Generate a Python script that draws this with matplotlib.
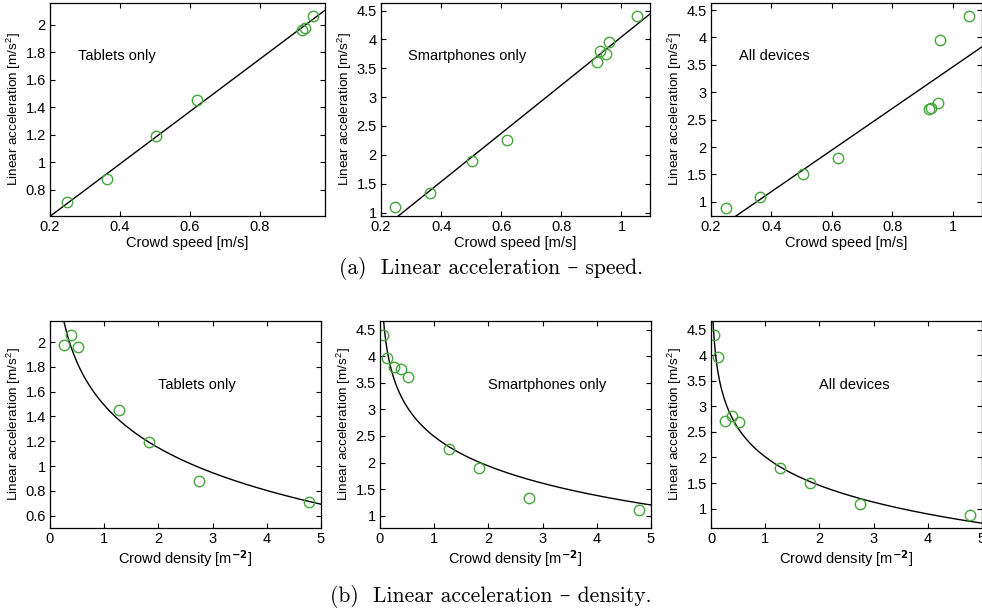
import numpy as np
import matplotlib
matplotlib.use('Agg')
import matplotlib.pyplot as plt
from matplotlib.ticker import FormatStrFormatter

plt.rcParams['font.family'] = ['Liberation Sans', 'DejaVu Sans']
plt.rcParams['mathtext.fontset'] = 'custom'
plt.rcParams['mathtext.rm'] = 'Liberation Sans'
plt.rcParams['mathtext.it'] = 'Liberation Sans'

# crowd speed [m/s] and density [m^-2] per experiment
speed_tab = [0.248, 0.362, 0.503, 0.620, 0.920, 0.930, 0.952]
acc_tab_speed = [0.71, 0.88, 1.19, 1.45, 1.96, 1.98, 2.06]
speed_all = [0.248, 0.362, 0.503, 0.620, 0.920, 0.927, 0.950, 0.957, 1.052]
acc_phone_speed = [1.10, 1.33, 1.90, 2.25, 3.61, 3.80, 3.75, 3.96, 4.40]
acc_all_speed = [0.88, 1.08, 1.50, 1.80, 2.69, 2.72, 2.81, 3.96, 4.40]

dens_tab = [0.25, 0.38, 0.52, 1.28, 1.83, 2.75, 4.78]
acc_tab_dens = [1.98, 2.06, 1.96, 1.45, 1.19, 0.88, 0.71]
dens_all = [0.05, 0.13, 0.25, 0.38, 0.52, 1.28, 1.83, 2.75, 4.78]
acc_phone_dens = [4.40, 3.96, 3.80, 3.75, 3.61, 2.25, 1.90, 1.33, 1.10]
acc_all_dens = [4.40, 3.96, 2.72, 2.81, 2.69, 1.80, 1.50, 1.08, 0.88]

titles = ['Tablets only', 'Smartphones only', 'All devices']

W, H = 982, 612
fig = plt.figure(figsize=(W / 100, H / 100), dpi=100)

def px_axes(x0, x1, y0, y1):
    return fig.add_axes([x0 / W, 1 - y1 / H, (x1 - x0) / W, (y1 - y0) / H])

green = '#44a83a'
fs = 10.5

def style(ax):
    ax.tick_params(direction='in', top=True, right=True, labelsize=fs,
                   length=3.5, width=0.8, pad=3)
    for s in ax.spines.values():
        s.set_linewidth(0.9)
    ax.yaxis.set_major_formatter(FormatStrFormatter('%g'))
    ax.xaxis.set_major_formatter(FormatStrFormatter('%g'))

top = [(50, 325), (381, 650), (711, 982)]
bot = [(50, 321), (380, 651), (711, 982)]

# speed row
speed_sets = [(speed_tab, acc_tab_speed), (speed_all, acc_phone_speed), (speed_all, acc_all_speed)]
speed_xlim = [(0.2, 0.986), (0.2, 1.095), (0.2, 1.096)]
speed_ylim = [(0.611, 2.158), (0.94, 4.63), (0.74, 4.63)]
speed_yticks = [np.arange(0.8, 2.01, 0.2), np.arange(1, 4.51, 0.5), np.arange(1, 4.51, 0.5)]
for i, (x, y) in enumerate(speed_sets):
    ax = px_axes(top[i][0], top[i][1], 3, 216)
    p = np.polyfit(x, y, 1)
    xx = np.linspace(speed_xlim[i][0], speed_xlim[i][1], 50)
    ax.plot(xx, np.polyval(p, xx), color='black', lw=1.0)
    ax.plot(x, y, 'o', mfc='none', mec=green, ms=7.5, mew=1.0)
    ax.set_xlim(speed_xlim[i])
    ax.set_ylim(speed_ylim[i])
    ax.set_yticks(speed_yticks[i])
    ax.set_xticks(np.arange(0.2, speed_xlim[i][1] + 0.001, 0.2))
    style(ax)
    ax.set_xlabel('Crowd speed [m/s]', fontsize=fs, labelpad=1)
    ax.set_ylabel('Linear acceleration [m/s$^2$]', fontsize=9.7, labelpad=2)
    ax.text(0.102, 0.75, titles[i], transform=ax.transAxes, fontsize=fs, va='center')

# density row
dens_sets = [(dens_tab, acc_tab_dens), (dens_all, acc_phone_dens), (dens_all, acc_all_dens)]
dens_ylim = [(0.5, 2.17), (0.77, 4.66), (0.62, 4.67)]
dens_yticks = [np.arange(0.6, 2.01, 0.2), np.arange(1, 4.51, 0.5), np.arange(1, 4.51, 0.5)]
for i, (x, y) in enumerate(dens_sets):
    ax = px_axes(bot[i][0], bot[i][1], 321, 528)
    p = np.polyfit(np.log(x), y, 1)
    xx = np.linspace(0.02, 5, 400)
    ax.plot(xx, np.polyval(p, np.log(xx)), color='black', lw=1.0)
    ax.plot(x, y, 'o', mfc='none', mec=green, ms=7.5, mew=1.0)
    ax.set_xlim(0, 5)
    ax.set_ylim(dens_ylim[i])
    ax.set_yticks(dens_yticks[i])
    ax.set_xticks(range(6))
    style(ax)
    ax.set_xlabel('Crowd density [m$^{\\mathbf{-2}}$]', fontsize=fs, labelpad=1)
    ax.set_ylabel('Linear acceleration [m/s$^2$]', fontsize=9.7, labelpad=2)
    ax.text(0.40, 0.693, titles[i], transform=ax.transAxes, fontsize=fs, va='center')

cap = dict(ha='center', va='center', fontsize=15.5, family=['cmr10', 'DejaVu Serif'])
fig.text(491 / W, 1 - 269 / H, '(a)  Linear acceleration \u2013 speed.', **cap)
fig.text(491 / W, 1 - 597 / H, '(b)  Linear acceleration \u2013 density.', **cap)

fig.savefig('out.png', dpi=100)
